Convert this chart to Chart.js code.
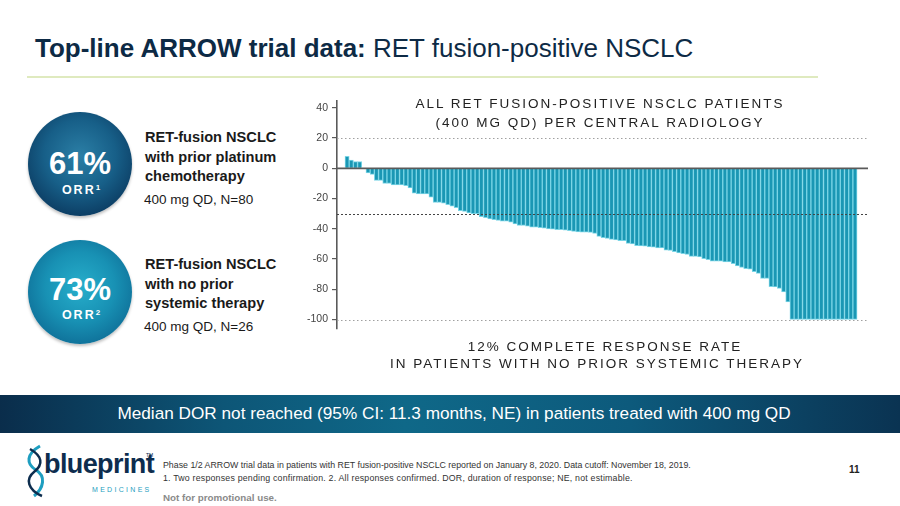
<!DOCTYPE html>
<html><head><meta charset="utf-8">
<script src="https://cdn.jsdelivr.net/npm/chart.js@4.4.1/dist/chart.umd.min.js"></script>
<style>
html,body{margin:0;padding:0}
body{width:900px;height:506px;overflow:hidden;background:#fff;font-family:"Liberation Sans",Arial,Helvetica,sans-serif;position:relative}
.t{position:absolute;white-space:nowrap;line-height:1}
.circ{position:absolute;border-radius:50%;box-shadow:0 2px 3px rgba(0,0,0,0.25)}
</style></head><body>

<div class="t" style="left:35px;top:35px;font-size:26px;color:#0d2a45"><b>Top-line ARROW trial data:</b> RET fusion-positive NSCLC</div>
<div style="position:absolute;left:27px;top:76px;width:791px;height:2px;background:#dfeabf"></div>

<div class="circ" style="left:28px;top:112px;width:104px;height:104px;background:radial-gradient(circle at 50% 42%, #2b7fa6 0%, #175f88 45%, #0b3a60 80%, #082c4c 100%)"></div>
<div class="t" style="left:27px;top:148px;width:106px;text-align:center;font-size:31px;font-weight:bold;color:#fff">61%</div>
<div class="t" style="left:29px;top:183.5px;width:106px;text-align:center;font-size:12.5px;font-weight:bold;color:#fff;letter-spacing:2px">ORR<sup style="font-size:8px;vertical-align:4px">1</sup></div>

<div class="circ" style="left:28px;top:240px;width:104px;height:104px;background:radial-gradient(circle at 50% 45%, #27aecb 0%, #1891b4 45%, #0e6d96 80%, #0b5c84 100%)"></div>
<div class="t" style="left:27px;top:274px;width:106px;text-align:center;font-size:31px;font-weight:bold;color:#fff">73%</div>
<div class="t" style="left:29px;top:308.5px;width:106px;text-align:center;font-size:12.5px;font-weight:bold;color:#fff;letter-spacing:2px">ORR<sup style="font-size:8px;vertical-align:4px">2</sup></div>

<div class="t" style="left:145px;top:128px;font-size:14.6px;font-weight:bold;color:#1a1a1a;line-height:19.5px">RET-fusion NSCLC<br>with prior platinum<br>chemotherapy</div>
<div class="t" style="left:144px;top:192.5px;font-size:13.5px;color:#1a1a1a">400 mg QD, N=80</div>
<div class="t" style="left:145px;top:255px;font-size:14.6px;font-weight:bold;color:#1a1a1a;line-height:19.5px">RET-fusion NSCLC<br>with no prior<br>systemic therapy</div>
<div class="t" style="left:144px;top:319.5px;font-size:13.5px;color:#1a1a1a">400 mg QD, N=26</div>

<div style="position:absolute;left:290px;top:90px;width:590px;height:250px"><canvas id="c" width="590" height="250"></canvas></div>

<div class="t" style="left:350px;top:96.5px;width:500px;text-align:center;font-size:13.5px;color:#222;letter-spacing:2px">ALL RET FUSION-POSITIVE NSCLC PATIENTS</div>
<div class="t" style="left:350px;top:115.5px;width:500px;text-align:center;font-size:13.5px;color:#222;letter-spacing:2px">(400 MG QD) PER CENTRAL RADIOLOGY</div>
<div class="t" style="left:355px;top:339.5px;width:500px;text-align:center;font-size:13.5px;color:#222;letter-spacing:2px">12% COMPLETE RESPONSE RATE</div>
<div class="t" style="left:347px;top:356.5px;width:500px;text-align:center;font-size:13.5px;color:#222;letter-spacing:2px">IN PATIENTS WITH NO PRIOR SYSTEMIC THERAPY</div>

<div style="position:absolute;left:0;top:395px;width:900px;height:38px;background:linear-gradient(90deg,#0a2d4b 0%,#0d5677 25%,#0f6888 45%,#0d5a7c 70%,#0a3352 100%)"></div>
<div class="t" style="left:0;top:404.5px;width:908px;text-align:center;font-size:17.2px;color:#fff">Median DOR not reached (95% CI: 11.3 months, NE) in patients treated with 400 mg QD</div>

<svg style="position:absolute;left:20px;top:440px" width="140" height="62">
 <path d="M20 6 C 6 14, 6 24, 16 30 C 26 36, 24 48, 14 56" stroke="#1e9ec0" stroke-width="3" fill="none"/>
 <path d="M10 9 C 22 16, 24 24, 14 32 C 5 39, 8 50, 22 56" stroke="#0d2d4e" stroke-width="2.5" fill="none"/>
 <text x="24" y="33" font-family="Liberation Sans, Arial" font-weight="bold" font-size="27" fill="#0d2d4e" letter-spacing="-0.6">blueprint</text>
 <text x="126" y="17" font-family="Liberation Sans, Arial" font-size="5" fill="#0d2d4e">TM</text>
 <text x="72" y="52" font-family="Liberation Sans, Arial" font-size="7" fill="#1e9ec0" letter-spacing="2.3">MEDICINES</text>
</svg>

<div class="t" style="left:163px;top:460.5px;font-size:8.8px;color:#333">Phase 1/2 ARROW trial data in patients with RET fusion-positive NSCLC reported on January 8, 2020. Data cutoff: November 18, 2019.</div>
<div class="t" style="left:163px;top:473.5px;font-size:8.8px;color:#333;letter-spacing:0.2px">1. Two responses pending confirmation. 2. All responses confirmed. DOR, duration of response; NE, not estimable.</div>
<div class="t" style="left:163px;top:492.5px;font-size:9.8px;color:#8a8a8a;font-weight:bold">Not for promotional use.</div>
<div class="t" style="left:849px;top:465px;font-size:10px;color:#222;font-weight:bold">11</div>

<script>
// Best percentage change from baseline in target lesions, one value per patient (sorted)
const bestChange = [
  8, 5.5, 4.5, 4.5, 0, -3, -4, -8, -8, -10,
  -10, -11, -11, -11, -11.5, -13, -16.5, -17, -17, -17,
  -19, -22.5, -22.5, -23, -24, -25, -26, -28, -28.5, -29.5,
  -30, -30, -32, -32.7, -33.4, -34, -34.5, -35, -35, -35.6,
  -36.7, -37.8, -37.8, -38.2, -38.9, -38.9, -39.3, -39.6, -40, -40.2,
  -40.5, -40.5, -40.9, -41.2, -41.7, -42, -42.2, -42.2, -42.4, -43,
  -45, -45.8, -46.3, -47, -47.4, -47.8, -47.8, -49.6, -50, -51.1,
  -51.3, -51.5, -52, -52.2, -52.6, -52.6, -54.1, -54.3, -55.2, -55.9,
  -56.5, -57, -58.2, -58.2, -58.6, -59.7, -60.4, -61.4, -61.4, -61.4,
  -61.9, -61.9, -63, -64.5, -65.6, -66.3, -66.7, -68.4, -69.5, -72.8,
  -72.8, -78.3, -78.5, -79.5, -81.7, -88.3, -100, -100, -100, -100,
  -100, -100, -100, -100, -100, -100, -100, -100, -100, -100,
  -100, -100
];
const patientNumbers = bestChange.map((_, i) => i + 1);
const yTickValues = [40, 20, 0, -20, -40, -60, -80, -100];
const referenceValues = [20, -30, -100];

const refStyles = {
  '20': {color: '#a0a0a0', dash: [1.5, 2.5], width: 1},
  '-30': {color: '#444', dash: [2, 2], width: 1},
  '-100': {color: '#a0a0a0', dash: [1.5, 2.5], width: 1}
};

const refLinePlugin = {
  id: 'refLines',
  afterDatasetsDraw(chart) {
    const {ctx, chartArea, scales} = chart;
    ctx.save();
    referenceValues.forEach(v => {
      const s = refStyles[String(v)];
      const y = Math.round(scales.y.getPixelForValue(v)) + 0.5;
      ctx.strokeStyle = s.color; ctx.lineWidth = s.width; ctx.setLineDash(s.dash);
      ctx.beginPath(); ctx.moveTo(chartArea.left, y); ctx.lineTo(chartArea.right, y); ctx.stroke();
    });
    const y0 = scales.y.getPixelForValue(0);
    ctx.setLineDash([]); ctx.strokeStyle = '#5a5a5a'; ctx.lineWidth = 1.6;
    ctx.beginPath(); ctx.moveTo(chartArea.left, y0); ctx.lineTo(chartArea.right, y0); ctx.stroke();
    ctx.restore();
  }
};

new Chart(document.getElementById('c'), {
  type: 'bar',
  data: {
    datasets: [{
      data: bestChange.map((v, i) => ({x: patientNumbers[i], y: v})),
      backgroundColor: '#1a97b4',
      borderColor: '#7ad5e6',
      borderWidth: 1,
      barPercentage: 1,
      categoryPercentage: 1
    }]
  },
  options: {
    responsive: false,
    animation: false,
    layout: {padding: {left: 0, right: 12, top: 9, bottom: 11.4}},
    plugins: {legend: {display: false}, tooltip: {enabled: false}},
    scales: {
      x: {type: 'linear', display: false, offset: false, min: -1.4, max: 125.1, grid: {offset: false}},
      y: {
        min: -106, max: 45,
        afterFit(scale) { scale.width = 47; },
        afterBuildTicks(scale) { scale.ticks = yTickValues.map(v => ({value: v})); },
        border: {display: true, color: '#5a5a5a', width: 1.6},
        grid: {drawOnChartArea: false, drawTicks: true, tickLength: 5, color: '#5a5a5a', lineWidth: 1.2},
        ticks: {font: {family: 'Liberation Sans, Arial', size: 10.5}, color: '#444', padding: 4}
      }
    }
  },
  plugins: [refLinePlugin]
});
</script>
</body></html>
